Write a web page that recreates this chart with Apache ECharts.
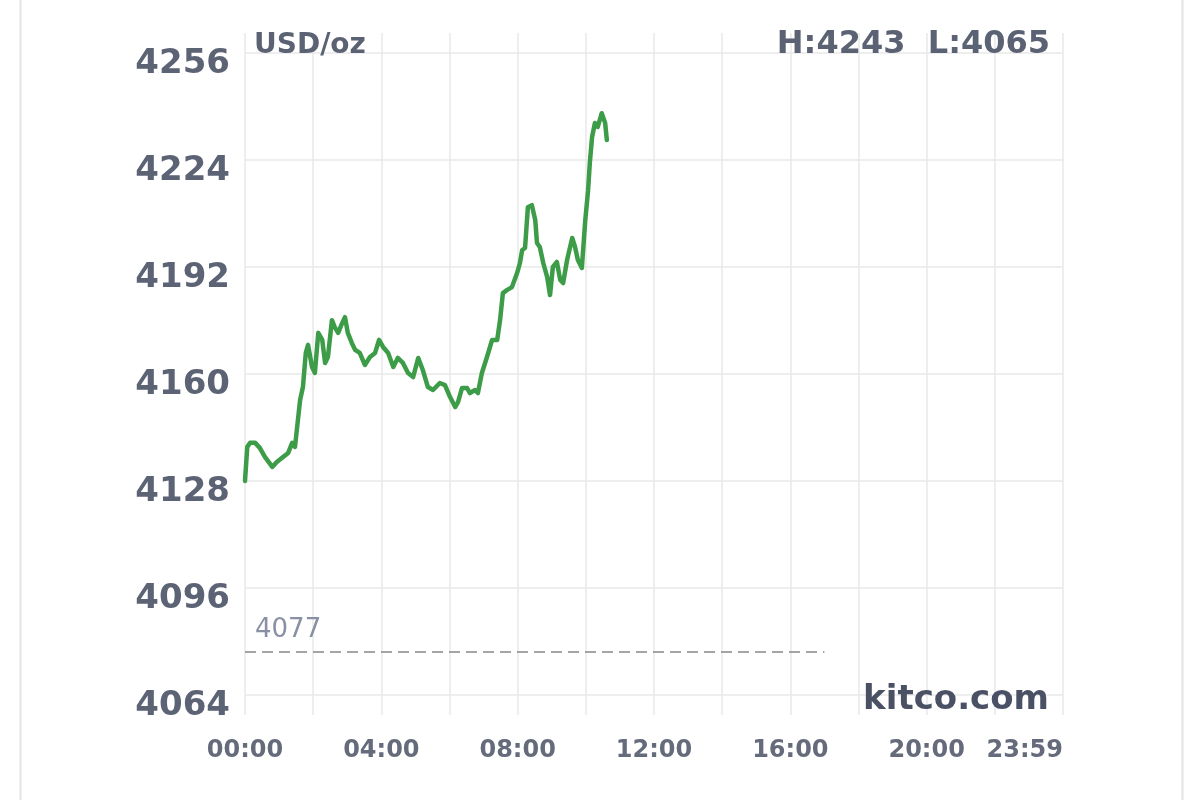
<!DOCTYPE html>
<html>
<head>
<meta charset="utf-8">
<script src="https://cdn.jsdelivr.net/npm/echarts@6/dist/echarts.min.js"></script>
<style>
html,body{margin:0;padding:0;background:#fff;}
#chart{width:1200px;height:800px;}
</style>
</head>
<body>
<div id="chart"></div>
<script>
// minutes since 00:00
const times = [0,4,9,18,26,35,48,56,67,76,83,88,97,102,107,111,118,123,129,136,141,146,153,158,164,171,176,181,188,194,202,211,220,229,236,243,252,261,269,278,287,296,305,313,322,331,343,352,361,370,375,382,391,396,405,410,417,426,435,444,449,454,461,470,479,484,488,493,498,505,511,514,519,525,532,537,542,549,555,560,567,576,581,586,593,599,604,607,611,616,621,628,634,637];
const prices = [4128,4138.2,4139.4,4139.4,4137.9,4135.2,4132.2,4133.7,4135.2,4136.4,4139.4,4138.2,4152.2,4156.1,4166.3,4168.7,4162.1,4160.3,4172.3,4170.2,4163.3,4165.1,4176.1,4174,4172.3,4175.2,4177,4172.3,4169.3,4167.2,4166.3,4162.7,4165.1,4166.3,4170.2,4168.1,4166.3,4162.1,4164.8,4163.3,4160.3,4159.1,4164.8,4161.2,4156.1,4155.2,4157.3,4156.7,4153.1,4150.1,4151.6,4155.8,4155.8,4154.3,4155.2,4154.3,4160.3,4165.1,4170.2,4170.2,4176.1,4184.2,4185.1,4186,4190.2,4193.2,4197.1,4197.7,4209.9,4210.5,4206,4199.2,4198,4193.2,4189,4183.6,4192,4193.5,4188.1,4187.2,4194.1,4200.7,4198,4194.1,4191.7,4206,4215,4223.1,4230.9,4235.1,4233.9,4238,4235.1,4230];
const yTicks = [4064,4096,4128,4160,4192,4224,4256];
const xLabelValues = [0,240,480,720,960,1200,1440];
const prevClose = 4077;
const prevCloseEnd = 1020; // 17:00
const unitLabel = 'USD/oz';
const highLow = 'H:4243  L:4065';
const brand = 'kitco.com';

const seriesData = times.map((t, i) => [t, prices[i]]);
const pad = n => (n < 10 ? '0' : '') + n;
const FONT = 'DejaVu Sans';

const chart = echarts.init(document.getElementById('chart'), null, {renderer: 'canvas'});
chart.setOption({
  animation: false,
  backgroundColor: '#ffffff',
  textStyle: {fontFamily: FONT},
  grid: {left: 245, right: 137, top: 33, bottom: 85, containLabel: false},
  graphic: [
    {type: 'rect', left: 18, top: -4, shape: {width: 1162, height: 820}, style: {fill: 'none', stroke: '#e4e4e4', lineWidth: 2}, silent: true}
  ],
  title: [
    {text: unitLabel, left: 249, top: 27, textStyle: {fontFamily: FONT, fontWeight: 'bold', fontSize: 28, color: '#5b6273'}},
    {text: highLow, right: 145, top: 24, textStyle: {fontFamily: FONT, fontWeight: 'bold', fontSize: 32, color: '#5b6273'}},
    {text: brand, right: 146, top: 678, textStyle: {fontFamily: FONT, fontWeight: 'bold', fontSize: 34, color: '#4a5164'}}
  ],
  xAxis: {
    type: 'value',
    min: 0, max: 1440, interval: 120,
    axisLine: {show: false},
    axisTick: {show: false},
    splitLine: {show: true, lineStyle: {color: '#e8e8e8', width: 1.5}},
    axisLabel: {
      customValues: xLabelValues,
      showMaxLabel: true,
      alignMaxLabel: 'right',
      margin: 24,
      fontFamily: FONT, fontWeight: 'bold', fontSize: 24, color: '#656b7b',
      formatter: v => v >= 1440 ? '23:59' : pad(Math.floor(v / 60)) + ':' + pad(v % 60)
    }
  },
  yAxis: {
    type: 'value',
    min: 4058, max: 4262,
    axisLine: {show: false},
    axisTick: {show: false, customValues: yTicks},
    splitLine: {show: true, lineStyle: {color: '#e8e8e8', width: 1.5}},
    axisLabel: {
      customValues: yTicks,
      margin: 15,
      verticalAlign: 'top',
      lineHeight: 22,
      fontFamily: FONT, fontWeight: 'bold', fontSize: 34, color: '#5b6374',
      formatter: v => String(v)
    }
  },
  series: [{
    type: 'line',
    data: seriesData,
    showSymbol: false,
    symbol: 'none',
    lineStyle: {color: '#3d9c48', width: 4.5, join: 'round', cap: 'round'},
    markLine: {
      silent: true,
      symbol: ['none', 'none'],
      lineStyle: {color: '#888888', width: 1.5, type: [11, 6]},
      label: {show: true, position: 'insideStartTop', formatter: String(prevClose), distance: [10, 8], fontFamily: FONT, fontSize: 26, color: '#8990a3'},
      data: [[{coord: [0, prevClose]}, {coord: [prevCloseEnd, prevClose]}]]
    }
  }]
});
</script>
</body>
</html>
